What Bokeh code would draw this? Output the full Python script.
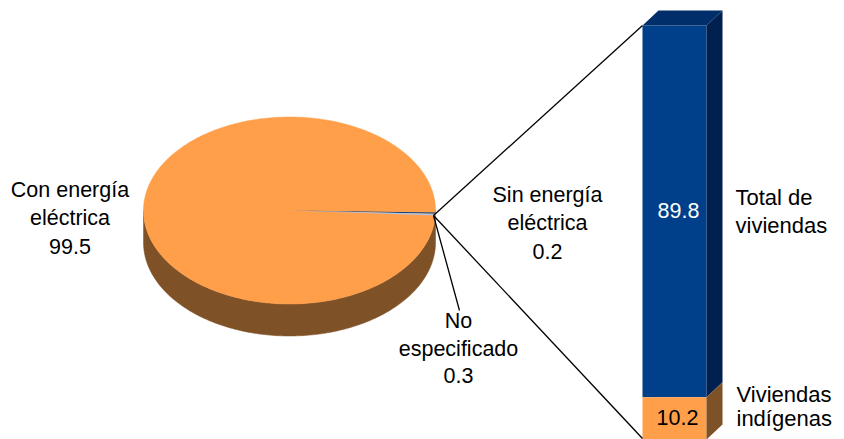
import numpy as np
from bokeh.plotting import figure
from bokeh.models import Range1d
from bokeh.core.properties import value
from bokeh.embed import file_html
from bokeh.resources import INLINE

pie_labels = ["Con energía eléctrica", "Sin energía eléctrica", "No especificado"]
pie_values = [99.5, 0.2, 0.3]
bar_labels = ["Total de viviendas", "Viviendas indígenas"]
bar_values = [89.8, 10.2]

ORANGE, BROWN = "#FF9F4A", "#7F5126"
BLUE, BLUE_TOP, BLUE_SIDE = "#003F8A", "#002E6B", "#002050"
GREY_BLUE = "#B4C3DA"
FONT = value("Liberation Sans")
W, H = 844, 439

p = figure(width=W, height=H, output_backend="svg", toolbar_location=None,
           x_range=Range1d(0, W), y_range=Range1d(H, 0), min_border=0)
p.xaxis.visible = False
p.yaxis.visible = False
p.grid.visible = False
p.outline_line_color = None
p.background_fill_color = None
p.border_fill_color = "white"

# scale of the stacked column: percent -> pixels
BAR_BOTTOM, BAR_TOP = 439, 25
pct_per_px = 100 / (BAR_BOTTOM - BAR_TOP)
p.extra_y_ranges = {"pct": Range1d(0, H * pct_per_px)}

# ---- pie -----
cx, cy, rx, ry, depth = 289, 210, 146, 93.5, 32
t = np.linspace(0, np.pi, 181)
ex, ey = cx + rx * np.cos(t), cy + ry * np.sin(t)
p.patch(np.r_[ex, ex[::-1]], np.r_[ey, ey[::-1] + depth], fill_color=BROWN, line_color=BROWN, line_width=0.5)
t = np.linspace(0, 2 * np.pi, 361)
p.patch(cx + rx * np.cos(t), cy + ry * np.sin(t), fill_color=ORANGE, line_color=ORANGE, line_width=0.5)

start = 1.2  # degrees below the horizontal, direction of the thin slices
a = start
for val, col in zip(pie_values[1:], [BLUE, GREY_BLUE]):
    sweep = val * 3.6
    th = np.radians(np.linspace(a, a + sweep, 6))
    p.patch(np.r_[cx, cx + rx * np.cos(th)], np.r_[cy, cy + ry * np.sin(th)],
            fill_color=col, line_color=None)
    a += sweep

# ---- stacked column -----
x0, x1, dx = 642, 706, 16
dp = 15 * pct_per_px
bottoms = [bar_values[1], 0]
tops = [bar_values[1] + bar_values[0], bar_values[1]]
p.vbar(x=[(x0 + x1) / 2] * 2, width=x1 - x0, bottom=bottoms, top=tops,
       fill_color=[BLUE, ORANGE], line_color=None, y_range_name="pct")
p.patch([x0, x1, x1 + dx, x0 + dx], [tops[0], tops[0], tops[0] + dp, tops[0] + dp],
        fill_color=BLUE_TOP, line_color=None, y_range_name="pct")
for b, tp, col in zip(bottoms, tops, [BLUE_SIDE, BROWN]):
    p.patch([x1, x1 + dx, x1 + dx, x1], [b, b + dp, tp + dp, tp],
            fill_color=col, line_color=None, y_range_name="pct")

# ---- leader lines -----
lx, ly = 433, 215
for ex2, ey2 in [(642, 25), (642, 438), (459, 310)]:
    p.line([lx, ex2], [ly, ey2], line_color="black", line_width=1.3)

# ---- texts -----
SIZE = "21.5px"
def label(x, ys, lines, color="black"):
    p.text([x] * len(lines), ys, text=lines, text_font=FONT, text_font_size=SIZE,
           text_align="center", text_baseline="middle", text_color=color)

label(69.5, [189, 217, 246], ["Con energía", "eléctrica", f"{pie_values[0]}"])
label(547, [194, 222, 251], ["Sin energía", "eléctrica", f"{pie_values[1]}"])
label(458, [320, 348, 375], ["No", "especificado", f"{pie_values[2]}"])
label(678, [210], [f"{bar_values[0]}"], "white")
label(677, [417], [f"{bar_values[1]}"])

def left_label(x, ys, lines):
    p.text([x] * len(lines), ys, text=lines, text_font=FONT, text_font_size="22px",
           text_align="left", text_baseline="middle", text_color="black")

left_label(735, [197, 225], ["Total de", "viviendas"])
left_label(736, [394, 418], ["Viviendas", "indígenas"])

open("out.html", "w").write(file_html(p, INLINE))
